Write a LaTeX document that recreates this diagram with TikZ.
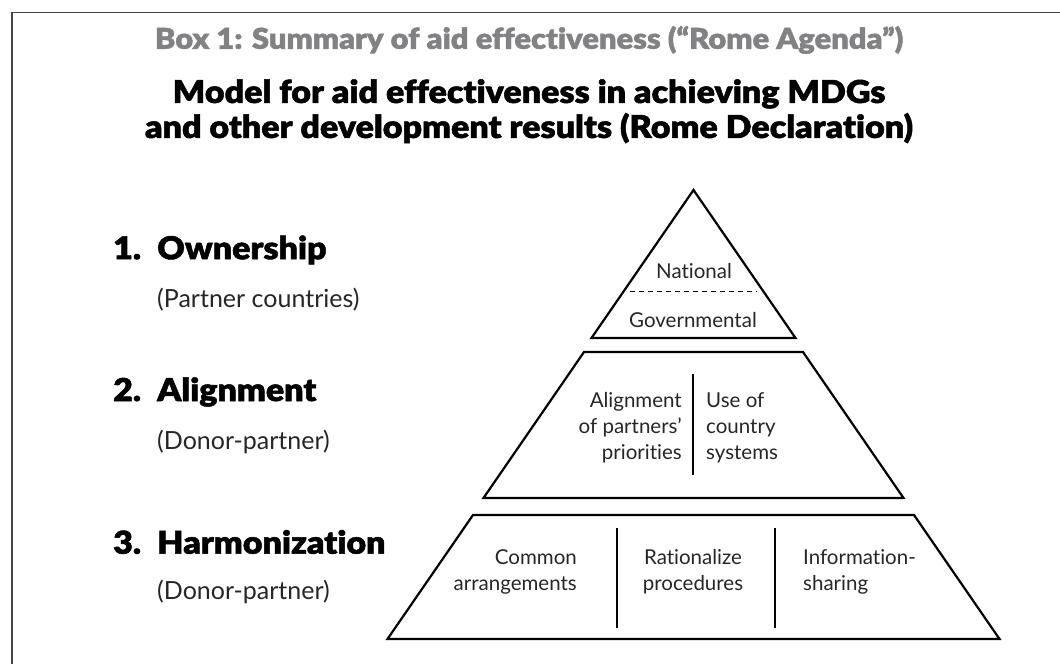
\documentclass[tikz,border=0pt]{standalone}
\usepackage{fontspec}
\setmainfont[Ligatures=NoCommon]{Lato}
\newfontfamily\heavyfont[FakeStretch=1.08,FakeBold=1.6,Ligatures=NoCommon]{Lato Black}
\usetikzlibrary{positioning}

\definecolor{titlegray}{RGB}{130,130,132}
\definecolor{framegray}{RGB}{70,70,70}

\begin{document}
\begin{tikzpicture}[x=1pt,y=1pt,inner sep=0pt,
	tier/.style={draw,line width=2.2pt,line join=miter},
	divider/.style={line width=1.1pt},
	head/.style={anchor=west,font=\heavyfont\fontsize{31.5}{36}\selectfont},
	sub/.style={anchor=west,font=\fontsize{25}{30}\selectfont,text=black!85},
	cell/.style={font=\fontsize{20.5}{26}\selectfont,text=black!85}]
	\useasboundingbox (0,0) rectangle (1060,664);
	% frame
	\draw[framegray,line width=1.6pt] (1060,651.5) -- (12,651.5) -- (12,0);
	% titles
	\node[font=\heavyfont\fontsize{28.6}{32}\selectfont,text=titlegray] (box) at (529,624) {Box 1: Summary of aid effectiveness (“Rome Agenda”)};
	\node[font=\heavyfont\fontsize{31.5}{35}\selectfont,align=center,below=25pt of box] (model) {Model for aid effectiveness in achieving MDGs\\and other development results (Rome Declaration)};
	% left column
	\node[head] (own) at (113,414) {\makebox[44pt][l]{1.}Ownership};
	\node[sub] (ownsub) at (157,364) {(Partner countries)};
	\node[head] (align) at (113,272) {\makebox[44pt][l]{2.}Alignment};
	\node[sub] (alignsub) at (157,222) {(Donor-partner)};
	\node[head] (harm) at (113,122) {\makebox[44pt][l]{3.}Harmonization};
	\node[sub] (harmsub) at (157,72) {(Donor-partner)};
	% pyramid
	\draw[tier] (693.5,474) -- (795.5,326) -- (591.5,326) -- cycle;
	\draw[tier] (584,312) -- (803,312) -- (903.5,166) -- (483.5,166) -- cycle;
	\draw[tier] (473,149) -- (914,149) -- (999.5,25) -- (387.5,25) -- cycle;
	\coordinate (dashl) at (630,373);
	\coordinate (dashr) at (757,373);
	\draw[dashed,line width=0.9pt,dash pattern=on 5pt off 4pt] (dashl) -- (dashr);
	\node[cell] (nat) at (694,393) {National};
	\node[cell] (gov) at (693,344) {Governmental};
	\coordinate (a1) at (693,290);
	\coordinate (a2) at (693,189);
	\draw[divider] (a1) -- (a2);
	\node[cell,anchor=east,align=right] (prio) at (682,236) {Alignment\\of partners\char"0027\\priorities};
	\node[cell,anchor=west,align=left] (sys) at (706,236) {Use of\\country\\systems};
	\coordinate (h1) at (617,136);
	\coordinate (h2) at (617,36);
	\coordinate (h3) at (775,136);
	\coordinate (h4) at (775,36);
	\draw[divider] (h1) -- (h2) (h3) -- (h4);
	\node[cell,anchor=east,align=right] (common) at (577,92) {Common\\arrangements};
	\node[cell,align=center] (ratio) at (693,92) {Rationalize\\procedures};
	\node[cell,anchor=west,align=left] (info) at (803,92) {Information-\\sharing};
\end{tikzpicture}
\end{document}
